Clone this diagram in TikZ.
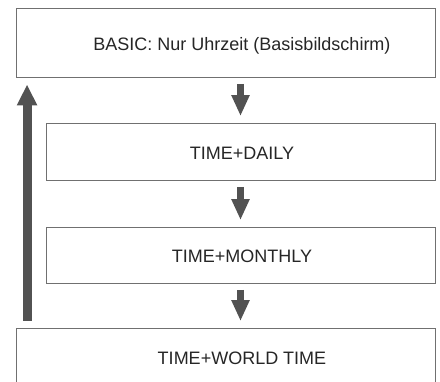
\documentclass[tikz,border=0pt]{standalone}
\usepackage{fontspec}
\setmainfont{Liberation Sans}
\usetikzlibrary{arrows.meta}
\definecolor{boxline}{RGB}{112,112,112}
\definecolor{arrowgray}{RGB}{82,82,82}
\tikzset{
  screenbox/.style={draw=boxline, line width=0.9pt, fill=white, rectangle, inner sep=0pt},
  screentext/.style={anchor=base, inner sep=0pt, text=black!85, font=\fontsize{18}{21}\selectfont},
  downarrow/.style={draw=arrowgray, line width=7pt, -{Triangle[width=17pt,length=21pt]}},
  uparrow/.style={draw=arrowgray, line width=9pt, -{Triangle[width=19pt,length=21pt]}}
}
\begin{document}
\begin{tikzpicture}[x=1pt,y=1pt]
\path[use as bounding box, clip] (0,0) rectangle (440,-382);
\node[screenbox, minimum width=419pt, minimum height=69pt] (box1) at (225.5,-42.5) {};
\node[screenbox, minimum width=389pt, minimum height=57pt] (box2) at (240.5,-151.5) {};
\node[screenbox, minimum width=389pt, minimum height=56pt] (box3) at (240.5,-255) {};
\node[screenbox, minimum width=419pt, minimum height=70pt] (box4) at (225.5,-363) {};
\node[screentext] (t1) at (242,-50.7) {BASIC: Nur Uhrzeit (Basisbildschirm)};
\node[screentext] (t2) at (242,-159.3) {TIME+DAILY};
\node[screentext] (t3) at (242,-262.8) {TIME+MONTHLY};
\node[screentext] (t4) at (242,-365) {TIME+WORLD TIME};
\draw[downarrow] ([yshift=-6.5pt]box2.north |- box1.south) -- ([yshift=6.5pt]box2.north);
\draw[downarrow] ([yshift=-6.5pt]box2.south) -- ([yshift=6.5pt]box3.north);
\draw[downarrow] ([yshift=-6.5pt]box3.south) -- ([yshift=6.5pt]box3.south |- box4.north);
\draw[uparrow] ([xshift=11.5pt,yshift=7pt]box4.north west) -- ([xshift=11.5pt,yshift=-7pt]box1.south west);
\end{tikzpicture}
\end{document}
